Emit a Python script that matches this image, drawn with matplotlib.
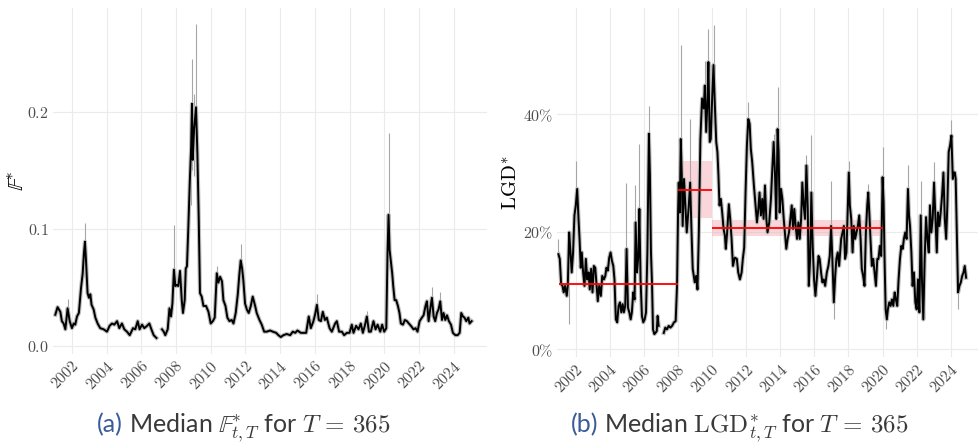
import numpy as np
import matplotlib
matplotlib.use('Agg')
import matplotlib.pyplot as plt
from matplotlib.ticker import FuncFormatter

plt.rcParams['mathtext.fontset'] = 'cm'

# ---- panel (a): median F* (decimal year, value) ----
f_year = [2001.04, 2001.17, 2001.33, 2001.42, 2001.52, 2001.62, 2001.67, 2001.75, 2001.87, 2002.00,
          2002.10, 2002.19, 2002.29, 2002.40, 2002.52, 2002.62, 2002.69, 2002.75, 2002.81, 2002.90,
          2002.98, 2003.06, 2003.13, 2003.25, 2003.35, 2003.48, 2003.63, 2003.83, 2004.02, 2004.17,
          2004.31, 2004.44, 2004.60, 2004.73, 2004.88, 2005.02, 2005.17, 2005.33, 2005.52, 2005.65,
          2005.79, 2005.90, 2006.04, 2006.17, 2006.33, 2006.46, 2006.58, 2006.71, 2006.87, 2007.00,
          2007.19, 2007.29, 2007.38, 2007.52, 2007.62, 2007.71, 2007.79, 2007.88, 2007.96, 2008.04,
          2008.13, 2008.23, 2008.33, 2008.40, 2008.50, 2008.56, 2008.63, 2008.71, 2008.79, 2008.87,
          2008.92, 2008.96, 2009.04, 2009.15, 2009.23, 2009.31, 2009.38, 2009.48, 2009.58, 2009.73,
          2009.87, 2010.00, 2010.12, 2010.23, 2010.35, 2010.44, 2010.54, 2010.65, 2010.73, 2010.85,
          2010.96, 2011.08, 2011.21, 2011.31, 2011.44, 2011.56, 2011.65, 2011.73, 2011.81, 2011.88,
          2011.98, 2012.08, 2012.19, 2012.31, 2012.42, 2012.56, 2012.65, 2012.81, 2012.94, 2013.08,
          2013.23, 2013.42, 2013.58, 2013.77, 2013.90, 2014.04, 2014.19, 2014.38, 2014.58, 2014.73,
          2014.87, 2015.00, 2015.19, 2015.35, 2015.50, 2015.65, 2015.77, 2015.92, 2016.02, 2016.12,
          2016.23, 2016.35, 2016.46, 2016.58, 2016.69, 2016.85, 2016.98, 2017.17, 2017.27, 2017.40,
          2017.56, 2017.69, 2017.85, 2018.00, 2018.13, 2018.23, 2018.38, 2018.52, 2018.65, 2018.77,
          2018.88, 2019.00, 2019.12, 2019.23, 2019.38, 2019.50, 2019.62, 2019.77, 2019.88, 2020.00,
          2020.12, 2020.19, 2020.25, 2020.31, 2020.38, 2020.46, 2020.52, 2020.60, 2020.69, 2020.79,
          2020.88, 2020.96, 2021.08, 2021.19, 2021.31, 2021.42, 2021.54, 2021.69, 2021.81, 2021.92,
          2022.04, 2022.17, 2022.27, 2022.38, 2022.46, 2022.56, 2022.65, 2022.75, 2022.85, 2022.94,
          2023.04, 2023.13, 2023.23, 2023.33, 2023.42, 2023.52, 2023.62, 2023.73, 2023.85, 2023.96,
          2024.10, 2024.23, 2024.35, 2024.44, 2024.54, 2024.63, 2024.73, 2024.85, 2024.92, 2025.04]
f_val = [0.0265, 0.033, 0.029, 0.021, 0.019, 0.014, 0.021, 0.032, 0.021, 0.015,
         0.019, 0.018, 0.025, 0.028, 0.049, 0.062, 0.079, 0.089, 0.073, 0.045,
         0.041, 0.044, 0.035, 0.031, 0.024, 0.019, 0.015, 0.014, 0.012, 0.017,
         0.019, 0.018, 0.021, 0.015, 0.019, 0.014, 0.012, 0.009, 0.015, 0.014,
         0.021, 0.014, 0.018, 0.015, 0.017, 0.019, 0.014, 0.009, 0.0066, np.nan,
         0.014, 0.012, 0.009, 0.014, 0.032, 0.025, 0.036, 0.065, 0.051, 0.052,
         0.051, 0.064, 0.039, 0.028, 0.039, 0.066, 0.068, 0.102, 0.139, 0.170,
         0.207, 0.159, 0.185, 0.204, 0.165, 0.108, 0.045, 0.042, 0.034, 0.034,
         0.029, 0.019, 0.021, 0.024, 0.062, 0.054, 0.059, 0.055, 0.039, 0.034,
         0.024, 0.021, 0.022, 0.019, 0.028, 0.044, 0.061, 0.073, 0.066, 0.056,
         0.036, 0.031, 0.028, 0.034, 0.042, 0.034, 0.028, 0.022, 0.018, 0.012,
         0.012, 0.013, 0.012, 0.011, 0.009, 0.0074, 0.009, 0.010, 0.009, 0.012,
         0.011, 0.013, 0.011, 0.011, 0.011, 0.025, 0.015, 0.021, 0.027, 0.035,
         0.022, 0.021, 0.029, 0.022, 0.024, 0.015, 0.012, 0.019, 0.021, 0.012,
         0.012, 0.009, 0.011, 0.011, 0.018, 0.011, 0.017, 0.014, 0.019, 0.011,
         0.017, 0.025, 0.012, 0.012, 0.021, 0.014, 0.018, 0.012, 0.018, 0.012,
         0.015, 0.079, 0.112, 0.082, 0.073, 0.062, 0.051, 0.039, 0.039, 0.034,
         0.028, 0.019, 0.018, 0.022, 0.021, 0.019, 0.017, 0.014, 0.015, 0.012,
         0.021, 0.024, 0.026, 0.034, 0.038, 0.021, 0.031, 0.041, 0.025, 0.021,
         0.028, 0.031, 0.038, 0.022, 0.028, 0.022, 0.026, 0.021, 0.018, 0.011,
         0.009, 0.009, 0.011, 0.028, 0.025, 0.024, 0.021, 0.024, 0.019, 0.021]

# grey range spikes around the median (year, low, high)
f_spk_year = [2001.75, 2002.69, 2002.75, 2007.88, 2008.56, 2008.87, 2008.92, 2009.04, 2009.15,
              2010.35, 2011.73, 2016.12, 2019.00, 2020.25, 2022.75, 2023.23]
f_spk_lo = [0.028, 0.060, 0.080, 0.055, 0.060, 0.120, 0.150, 0.145, 0.150,
            0.055, 0.066, 0.030, 0.020, 0.090, 0.034, 0.032]
f_spk_hi = [0.040, 0.090, 0.105, 0.103, 0.080, 0.180, 0.245, 0.215, 0.275,
            0.068, 0.087, 0.044, 0.030, 0.182, 0.050, 0.046]

# ---- panel (b): median LGD* (percent) ----
l_year = [2000.98, 2001.06, 2001.14, 2001.22, 2001.29, 2001.37, 2001.47, 2001.53, 2001.61, 2001.69,
          2001.76, 2001.84, 2001.92, 2002.00, 2002.08, 2002.16, 2002.22, 2002.29, 2002.35, 2002.43,
          2002.51, 2002.59, 2002.67, 2002.75, 2002.82, 2002.90, 2002.98, 2003.06, 2003.14, 2003.22,
          2003.29, 2003.37, 2003.47, 2003.55, 2003.65, 2003.73, 2003.80, 2003.88, 2003.96, 2004.04,
          2004.12, 2004.20, 2004.27, 2004.35, 2004.43, 2004.51, 2004.59, 2004.67, 2004.75, 2004.82,
          2004.90, 2004.98, 2005.06, 2005.14, 2005.22, 2005.29, 2005.37, 2005.45, 2005.51, 2005.59,
          2005.67, 2005.73, 2005.80, 2005.88, 2005.96, 2006.04, 2006.12, 2006.20, 2006.25, 2006.29,
          2006.35, 2006.41, 2006.47, 2006.53, 2006.61, 2006.67, 2006.75, 2006.80, 2006.86, 2007.00,
          2007.16, 2007.25, 2007.35, 2007.45, 2007.55, 2007.65, 2007.76, 2007.86, 2007.94, 2008.00,
          2008.04, 2008.10, 2008.16, 2008.22, 2008.27, 2008.35, 2008.43, 2008.51, 2008.63, 2008.71,
          2008.78, 2008.86, 2008.98, 2009.06, 2009.14, 2009.22, 2009.31, 2009.41, 2009.51, 2009.57,
          2009.65, 2009.73, 2009.78, 2009.86, 2009.92, 2010.00, 2010.08, 2010.16, 2010.24, 2010.31,
          2010.37, 2010.43, 2010.51, 2010.59, 2010.67, 2010.75, 2010.80, 2010.88, 2010.98, 2011.06,
          2011.14, 2011.22, 2011.33, 2011.45, 2011.53, 2011.63, 2011.73, 2011.80, 2011.88, 2011.96,
          2012.04, 2012.12, 2012.20, 2012.27, 2012.35, 2012.45, 2012.55, 2012.63, 2012.71, 2012.78,
          2012.86, 2012.94, 2013.02, 2013.10, 2013.18, 2013.25, 2013.35, 2013.45, 2013.53, 2013.61,
          2013.69, 2013.76, 2013.84, 2013.90, 2013.96, 2014.04, 2014.12, 2014.20, 2014.27, 2014.35,
          2014.43, 2014.51, 2014.59, 2014.67, 2014.75, 2014.82, 2014.90, 2014.98, 2015.06, 2015.14,
          2015.22, 2015.29, 2015.37, 2015.45, 2015.53, 2015.61, 2015.67, 2015.75, 2015.82, 2015.90,
          2015.98, 2016.06, 2016.14, 2016.24, 2016.31, 2016.39, 2016.47, 2016.55, 2016.63, 2016.73,
          2016.82, 2016.90, 2016.98, 2017.06, 2017.14, 2017.22, 2017.29, 2017.37, 2017.45, 2017.57,
          2017.65, 2017.73, 2017.80, 2017.88, 2017.96, 2018.02, 2018.08, 2018.16, 2018.24, 2018.31,
          2018.39, 2018.47, 2018.55, 2018.63, 2018.71, 2018.78, 2018.86, 2018.94, 2019.02, 2019.10,
          2019.16, 2019.22, 2019.29, 2019.37, 2019.45, 2019.53, 2019.61, 2019.69, 2019.76, 2019.84,
          2019.92, 2020.00, 2020.06, 2020.12, 2020.18, 2020.25, 2020.31, 2020.39, 2020.47, 2020.55,
          2020.63, 2020.71, 2020.78, 2020.86, 2020.94, 2021.02, 2021.10, 2021.18, 2021.25, 2021.33,
          2021.41, 2021.49, 2021.55, 2021.61, 2021.69, 2021.76, 2021.84, 2021.92, 2022.00, 2022.08,
          2022.16, 2022.24, 2022.31, 2022.39, 2022.47, 2022.55, 2022.63, 2022.71, 2022.78, 2022.86,
          2022.94, 2023.02, 2023.10, 2023.18, 2023.25, 2023.33, 2023.41, 2023.49, 2023.57, 2023.65,
          2023.73, 2023.80, 2023.88, 2023.96, 2024.04, 2024.12, 2024.18, 2024.24, 2024.29, 2024.35,
          2024.43, 2024.51, 2024.59, 2024.67, 2024.75, 2024.82, 2024.90]
l_val = [16.2, 15.4, 11.1, 10.8, 9.7, 10.8, 9.1, 10.8, 19.9, 16.5,
         13.1, 16.5, 22.8, 24.5, 27.3, 22.2, 18.8, 13.9, 16.5, 13.1,
         10.8, 15.4, 11.9, 13.1, 10.2, 13.7, 9.7, 14.2, 13.9, 10.8,
         8.2, 10.8, 9.1, 12.5, 11.9, 12.5, 13.9, 13.4, 15.6, 16.5,
         15.1, 14.2, 11.9, 5.1, 4.6, 7.4, 8.0, 6.3, 7.7, 6.3,
         7.4, 17.1, 7.1, 6.3, 5.1, 6.3, 9.7, 8.5, 21.6, 13.1,
         15.9, 23.9, 11.9, 5.7, 4.6, 5.1, 6.3, 16.5, 27.9, 36.7,
         29.6, 16.5, 11.4, 3.4, 2.6, 2.8, 3.1, 5.7, 4.0, np.nan,
         2.8, 3.7, 3.4, 4.0, 3.7, 4.0, 4.6, 4.8, 10.8, 23.3,
         28.4, 23.3, 35.8, 29.6, 21.0, 29.0, 24.5, 19.9, 24.5, 28.4,
         21.0, 13.7, 11.4, 12.5, 10.2, 19.9, 35.8, 42.7, 41.0, 44.9,
         37.0, 42.7, 48.9, 35.3, 35.8, 42.7, 48.4, 41.5, 35.3, 33.6,
         29.6, 24.5, 25.6, 23.3, 20.5, 19.3, 17.1, 19.9, 24.7, 22.2,
         18.8, 14.2, 15.6, 15.4, 13.1, 11.9, 13.1, 15.4, 17.3, 26.7,
         34.7, 39.2, 38.4, 34.1, 31.9, 27.9, 24.5, 21.6, 23.9, 26.7,
         22.8, 25.6, 22.2, 27.9, 22.2, 19.9, 21.6, 25.6, 30.7, 35.3,
         29.6, 22.2, 37.5, 33.6, 23.3, 27.3, 25.6, 22.2, 19.9, 17.1,
         18.8, 19.9, 22.2, 24.5, 20.5, 23.9, 21.0, 18.8, 21.6, 18.8,
         22.2, 28.4, 24.5, 22.2, 31.3, 23.9, 10.8, 15.4, 26.7, 17.6,
         11.9, 9.1, 11.9, 15.9, 15.4, 13.1, 11.4, 11.9, 10.8, 13.1,
         14.2, 15.9, 21.0, 14.8, 8.0, 12.5, 15.4, 16.5, 14.2, 18.8,
         19.9, 21.0, 15.4, 16.5, 24.5, 30.1, 24.5, 22.2, 16.5, 21.0,
         18.8, 19.9, 21.0, 22.8, 18.8, 13.7, 12.5, 10.8, 19.9, 24.5,
         26.7, 23.3, 18.8, 14.2, 15.4, 13.1, 10.8, 15.4, 15.4, 17.6,
         15.9, 29.3, 25.0, 14.8, 6.8, 5.1, 6.8, 8.0, 7.4, 8.5,
         7.4, 9.7, 8.5, 7.4, 11.9, 15.4, 17.6, 17.1, 18.8, 19.9,
         18.8, 27.3, 22.8, 21.0, 16.5, 10.8, 13.1, 8.0, 6.8, 11.9,
         6.3, 22.8, 11.9, 5.1, 15.4, 22.5, 18.8, 16.5, 24.5, 19.9,
         22.2, 28.4, 22.2, 16.5, 23.3, 21.0, 23.3, 26.2, 30.1, 22.2,
         18.8, 24.5, 33.6, 34.7, 36.4, 29.0, 30.1, 30.1, 29.0, 21.0,
         9.7, 10.8, 11.4, 12.5, 13.1, 14.2, 12.2]

l_spk_year = [2000.98, 2001.61, 2002.00, 2004.94, 2005.49, 2005.73, 2006.29, 2008.16, 2008.71, 2009.20,
              2009.57, 2009.75, 2010.08, 2012.10, 2013.60, 2013.84, 2015.49, 2015.82, 2016.98, 2017.14,
              2018.02, 2019.16, 2020.00, 2020.20, 2021.49, 2022.24, 2023.02, 2023.57, 2024.04, 2024.43]
l_spk_lo = [15.0, 4.3, 22.0, 7.0, 8.0, 12.0, 30.0, 28.0, 22.0, 12.0,
            38.0, 40.0, 40.0, 36.0, 30.0, 30.0, 24.0, 20.0, 16.0, 5.1,
            25.0, 22.0, 22.0, 3.4, 21.0, 10.0, 22.0, 24.0, 30.0, 6.8]
l_spk_hi = [18.8, 20.0, 32.0, 28.4, 27.9, 35.0, 41.5, 51.8, 39.2, 37.3,
            49.0, 54.6, 55.2, 42.1, 36.7, 44.7, 33.0, 36.4, 28.7, 14.0,
            32.1, 28.2, 34.4, 8.0, 31.3, 28.7, 31.9, 30.4, 39.0, 12.0]

# regime means with confidence band (percent)
reg_start = [2001.0, 2008.0, 2010.0]
reg_end = [2008.0, 2010.0, 2020.0]
reg_mean = [11.1, 27.2, 20.6]
reg_lo = [10.9, 22.4, 19.3]
reg_hi = [11.3, 32.0, 22.0]

year_ticks = list(range(2002, 2025, 2))

captions = [(r'(a)', r' Median $\mathbb{F}^{*}_{t,T}$ for $T\,=\,365$', 0.099),
            (r'(b)', r' Median $\mathrm{LGD}^{*}_{t,T}$ for $T\,=\,365$', 0.583)]


def style_axes(ax):
    ax.set_facecolor('white')
    for s in ax.spines.values():
        s.set_visible(False)
    ax.tick_params(length=0, colors='#4d4d4d', labelsize=11.5, pad=3)
    ax.grid(True, color='#ebebeb', linewidth=0.8)
    ax.set_axisbelow(True)
    ax.set_xticks(year_ticks)
    ax.xaxis.set_major_formatter(FuncFormatter(lambda v, p: r'$%d$' % v))
    for lab in ax.get_xticklabels():
        lab.set_rotation(45)
        lab.set_ha('right')
        lab.set_rotation_mode('anchor')


fig = plt.figure(figsize=(9.79, 4.44), dpi=100)
ax1 = fig.add_axes([0.054, 0.203, 0.443, 0.779])
ax2 = fig.add_axes([0.569, 0.195, 0.430, 0.787])

# panel (a)
ax1.vlines(f_spk_year, f_spk_lo, f_spk_hi, color='#a6a6a6', linewidth=0.8, zorder=2)
ax1.plot(f_year, f_val, color='#bdbdbd', linewidth=3.0, zorder=3)
ax1.plot(f_year, f_val, color='black', linewidth=1.4, zorder=4)
ax1.set_xlim(2000.9, 2025.9)
ax1.set_ylim(-0.007, 0.289)
ax1.set_yticks([0.0, 0.1, 0.2])
ax1.yaxis.set_major_formatter(FuncFormatter(lambda v, p: r'$%.1f$' % v))
style_axes(ax1)
ax1.set_ylabel(r'$\mathbb{F}^{*}$', fontsize=16, color='black')
ax1.yaxis.set_label_coords(-0.058, 0.5)

# panel (b)
l_frac = [v / 100 for v in l_val]
for s, e, lo, hi in zip(reg_start, reg_end, reg_lo, reg_hi):
    ax2.fill_between([s, e], lo / 100, hi / 100, color='#f4a6ad', alpha=0.45, linewidth=0, zorder=1)
ax2.vlines(l_spk_year, [v / 100 for v in l_spk_lo], [v / 100 for v in l_spk_hi],
           color='#a6a6a6', linewidth=0.8, zorder=2)
ax2.plot(l_year, l_frac, color='#bdbdbd', linewidth=3.0, zorder=3)
ax2.plot(l_year, l_frac, color='black', linewidth=1.4, zorder=4)
ax2.hlines([m / 100 for m in reg_mean], reg_start, reg_end, color='red', linewidth=1.3, zorder=5)
ax2.set_xlim(2000.9, 2025.6)
ax2.set_ylim(-0.0137, 0.581)
ax2.set_yticks([0.0, 0.2, 0.4])
ax2.yaxis.set_major_formatter(FuncFormatter(lambda v, p: r'$%d\%%$' % round(v * 100)))
style_axes(ax2)
ax2.set_ylabel(r'$\mathrm{LGD}^{*}$', fontsize=15, color='black')
ax2.yaxis.set_label_coords(-0.085, 0.5)

# captions: blue "(a)"/"(b)" followed by the grey text
cap_kw = dict(fontsize=18, family='Lato', va='baseline')
fig.canvas.draw()
r = fig.canvas.get_renderer()
for tag, txt, x0 in captions:
    t = fig.text(x0, 0.027, tag, color='#3a5a98', **cap_kw)
    bb = t.get_window_extent(r)
    fig.text(bb.x1 / fig.bbox.width, 0.027, txt, color='#3a3a3a', **cap_kw)

fig.savefig('out.png', dpi=100)
